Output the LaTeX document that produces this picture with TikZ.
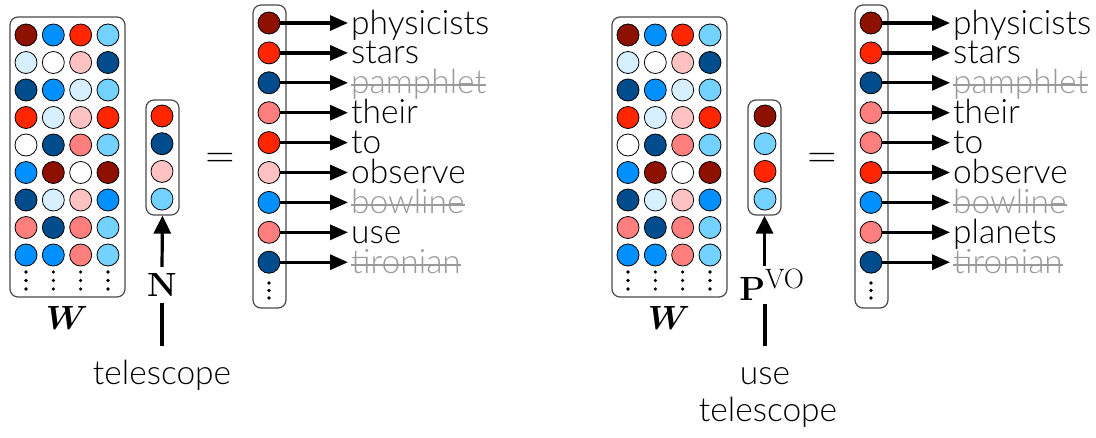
\documentclass[tikz,border=0pt]{standalone}
\usepackage{amsmath}
\usepackage[no-math]{fontspec}
\setmainfont{Lato}[UprightFont=* Light]
\usetikzlibrary{arrows.meta}

\definecolor{cDR}{HTML}{8E1100}
\definecolor{cRD}{HTML}{FF2600}
\definecolor{cPK}{HTML}{FFC2C2}
\definecolor{cSA}{HTML}{FF7E7E}
\definecolor{cDB}{HTML}{004C8C}
\definecolor{cBL}{HTML}{0090FF}
\definecolor{cLB}{HTML}{73D2FF}
\definecolor{cVL}{HTML}{D6F0FF}
\definecolor{cWH}{HTML}{FFFFFF}
\definecolor{frame}{HTML}{4A4A4A}
\definecolor{strike}{HTML}{9A9A9A}

\newcommand{\wordsize}{\fontsize{33.5}{40}\selectfont}
% math set at 24.88pt and enlarged
\newcommand{\bigmath}[2]{\scalebox{#1}{\fontsize{24.88}{30}\selectfont$#2$}}
% grey word with a line through it
\newcommand{\struck}[1]{{\color{strike}\setbox0=\hbox{#1}\rlap{\rule[0.22em]{\wd0}{2pt}}\box0}}

\begin{document}
\begin{tikzpicture}[x=1pt,y=-1pt,
  cell/.style={circle,draw=black,line width=0.8pt,minimum size=22pt,inner sep=0pt},
  panel/.style={draw=frame,line width=1.2pt,rounded corners=8pt,inner sep=0pt},
  conn/.style={line width=3.2pt,-{Triangle[length=18pt,width=15pt]}},
  upconn/.style={line width=3.2pt,-{Triangle[length=18pt,width=17pt]}},
  stem/.style={line width=3.2pt,shorten <=14pt},
  word/.style={anchor=base west,inner xsep=3pt,inner ysep=0pt,font=\wordsize},
  lowlab/.style={anchor=base,inner sep=0pt,text height=24pt,text depth=0pt,font=\wordsize},
  mathlab/.style={inner sep=0pt},
  eqsign/.style={inner sep=0pt}]
\useasboundingbox (0,0) rectangle (1096,437);

% ---------------- two panels: the matrix W is the same in both ----------------
\foreach \pre/\dx in {L/0,R/602}{
  \node[panel,minimum width=115pt,minimum height=280pt] (\pre Wbox) at (67.5+\dx,157) {};
  \foreach \row [count=\i] in {{cDR,cBL,cRD,cLB},{cVL,cWH,cPK,cDB},{cDB,cBL,cVL,cLB},
      {cRD,cVL,cPK,cRD},{cWH,cDB,cSA,cLB},{cBL,cDR,cWH,cDR},{cDB,cVL,cPK,cBL},
      {cSA,cDB,cSA,cLB},{cBL,cBL,cSA,cLB}}{
    \foreach \c [count=\j] in \row {
      \node[cell,fill=\c] (\pre W-\i-\j) at ({26+27.33*(\j-1)+\dx},{35+27.5*(\i-1)}) {};
    }
  }
  \foreach \j in {1,...,4}{
    \foreach \k in {0,1,2}{
      \fill ({26+27.33*(\j-1)+\dx},{272+8.5*\k}) circle (1.8pt);
    }
  }
  \node[mathlab] (\pre Wlab) at (67+\dx,318) {\bigmath{1.35}{\boldsymbol{W}}};

  \node[panel,minimum width=33pt,minimum height=115pt] (\pre Vbox) at (162.5+\dx,157.5) {};
  \node[eqsign] (\pre eq) at (220+\dx,160) {\bigmath{1.6}{=}};
  \node[panel,minimum width=33pt,minimum height=303pt] (\pre Obox) at (269.5+\dx,156.5) {};
  \foreach \k in {0,1,2}{
    \fill (269+\dx,{283+7.5*\k}) circle (1.8pt);
  }
}

% ---------------- left panel: vector N ----------------
\foreach \c [count=\i] in {cRD,cDB,cPK,cLB}{
  \node[cell,fill=\c] (LV-\i) at (162,{116+27.7*(\i-1)}) {};
}
\foreach \c/\t [count=\i] in {cDR/physicists,cRD/stars,cDB/\struck{pamphlet},cSA/their,
    cRD/to,cPK/observe,cBL/\struck{bowline},cSA/use,cDB/\struck{tironian}}{
  \node[cell,fill=\c] (LO-\i) at (269,{23+29.9*(\i-1)}) {};
  \node[word] (Lw-\i) at (348,{34+29.9*(\i-1)}) {\t};
  \draw[conn] (LO-\i.east) -- (LO-\i.east -| Lw-\i.west);
}
\node[mathlab,minimum height=36pt] (LN) at (162,285) {\bigmath{1.35}{\mathbf{N}}};
\node[lowlab] (Ltel) at (162,384) {telescope};
\draw[upconn] (LN.north) -- (LVbox.south);
\draw[stem] (Ltel.north) -- (LN.south);

% ---------------- right panel: vector P^VO ----------------
\foreach \c [count=\i] in {cDR,cLB,cRD,cLB}{
  \node[cell,fill=\c] (RV-\i) at (765,{116+27.7*(\i-1)}) {};
}
\foreach \c/\t [count=\i] in {cDR/physicists,cRD/stars,cDB/\struck{pamphlet},cSA/their,
    cSA/to,cRD/observe,cBL/\struck{bowline},cSA/planets,cDB/\struck{tironian}}{
  \node[cell,fill=\c] (RO-\i) at (871,{23+29.9*(\i-1)}) {};
  \node[word] (Rw-\i) at (950,{34+29.9*(\i-1)}) {\t};
  \draw[conn] (RO-\i.east) -- (RO-\i.east -| Rw-\i.west);
}
\node[mathlab,minimum height=38pt] (RP) at (772,285) {\bigmath{1.35}{\mathbf{P}^{\mathrm{VO}}}};
\node[lowlab] (Ruse) at (765,384) {use};
\node[lowlab] (Rtel) at (768,421) {telescope};
\draw[upconn] (RP.north -| RVbox.south) -- (RVbox.south);
\draw[stem] (Ruse.north) -- (Ruse.north |- RP.south);
\end{tikzpicture}
\end{document}
